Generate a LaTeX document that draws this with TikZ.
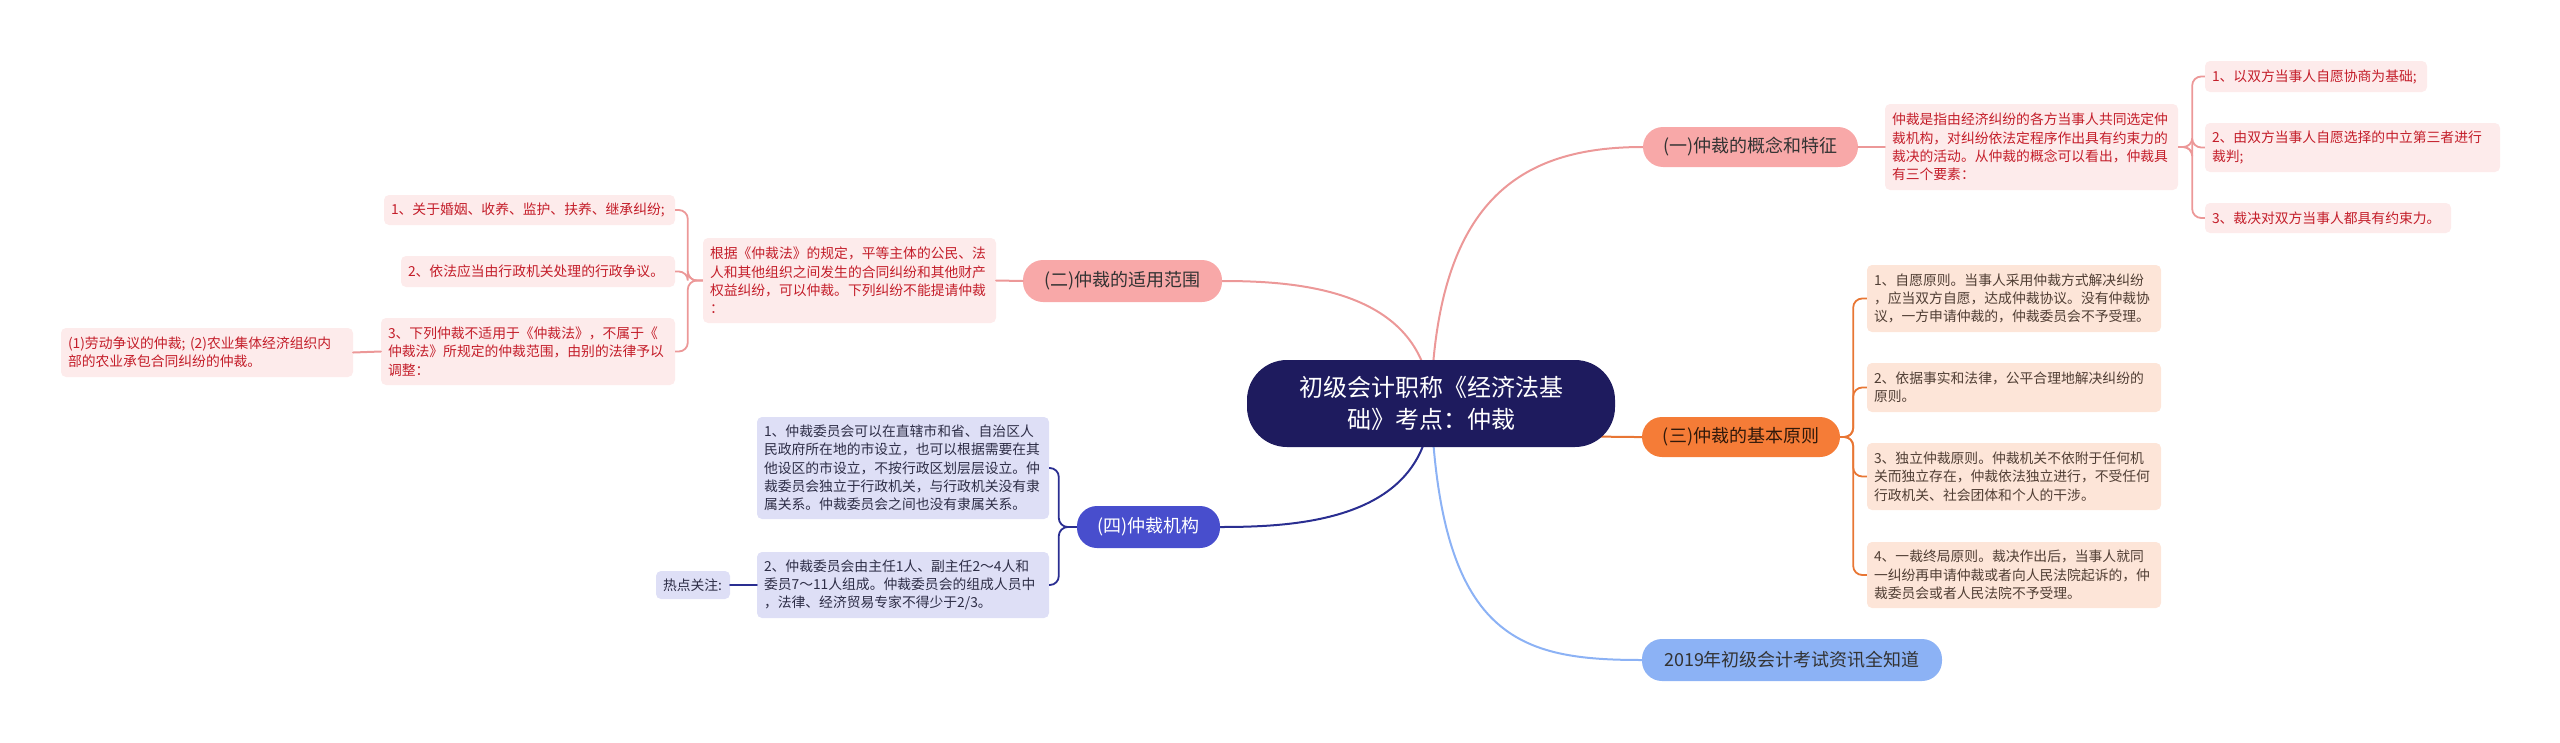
\documentclass[tikz,border=0pt]{standalone}
\usepackage{fontspec}
\setmainfont{Noto Sans CJK SC}
\usetikzlibrary{backgrounds}
\definecolor{rootc}{RGB}{30,27,94}
\definecolor{pinkc}{RGB}{248,168,168}
\definecolor{pinkln}{RGB}{236,152,152}
\definecolor{pinkbg}{RGB}{253,235,235}
\definecolor{pinktx}{RGB}{196,30,42}
\definecolor{orangec}{RGB}{245,124,55}
\definecolor{orangeln}{RGB}{232,118,52}
\definecolor{peachbg}{RGB}{253,229,216}
\definecolor{peachtx}{RGB}{80,62,52}
\definecolor{bluec}{RGB}{72,78,205}
\definecolor{blueln}{RGB}{42,46,145}
\definecolor{lilacbg}{RGB}{222,223,246}
\definecolor{lilactx}{RGB}{45,45,70}
\definecolor{skyc}{RGB}{140,178,245}
\definecolor{darktx}{RGB}{51,51,51}
\tikzset{
  topic/.style={rounded corners=20pt, inner sep=0pt, align=center, text=darktx,
    font=\fontsize{18}{22}\selectfont},
  leaf/.style={rounded corners=5pt, inner xsep=7pt, inner ysep=0pt, align=left,
    font=\fontsize{13.8}{18.3}\selectfont},
  pinkleaf/.style={leaf, fill=pinkbg, text=pinktx},
  peachleaf/.style={leaf, fill=peachbg, text=peachtx},
  lilacleaf/.style={leaf, fill=lilacbg, text=lilactx},
  conn/.style={line width=2pt, line cap=round},
  brace/.style={line width=1.8pt, rounded corners=9pt}
}
\begin{document}
\begin{tikzpicture}[x=1pt,y=-1pt]
\useasboundingbox (0,0) rectangle (2560,742);

\node[fill=rootc, text=white, rounded corners=40pt, minimum width=368pt, minimum height=87pt,
  align=center, font=\fontsize{24}{32}\selectfont] (root) at (1431,403.5) {初级会计职称《经济法基\\础》考点：仲裁};

\node[topic, fill=pinkc, minimum width=215pt, minimum height=40pt] (t1) at (1750.5,147) {(一)仲裁的概念和特征};
\node[topic, fill=pinkc, minimum width=199pt, minimum height=42pt] (t2) at (1122.5,281) {(二)仲裁的适用范围};
\node[topic, fill=orangec, text=black!80!orangec, minimum width=198pt, minimum height=40pt] (t3) at (1741,437) {(三)仲裁的基本原则};
\node[topic, fill=bluec, text=white, minimum width=143pt, minimum height=42pt] (t4) at (1148.5,527) {(四)仲裁机构};
\node[topic, fill=skyc, minimum width=300pt, minimum height=42pt] (t5) at (1792,660) {2019年初级会计考试资讯全知道};

% (一)
\node[pinkleaf, text width=279pt, minimum height=86pt] (d1) at (2031.5,147) {仲裁是指由经济纠纷的各方当事人共同选定仲\\裁机构，对纠纷依法定程序作出具有约束力的\\裁决的活动。从仲裁的概念可以看出，仲裁具\\有三个要素：};
\node[pinkleaf, text width=208pt, minimum height=31pt] (c11) at (2316,76.5) {1、以双方当事人自愿协商为基础;};
\node[pinkleaf, text width=281pt, minimum height=49pt] (c12) at (2352.5,147.5) {2、由双方当事人自愿选择的中立第三者进行\\裁判;};
\node[pinkleaf, text width=232pt, minimum height=30pt] (c13) at (2328,218) {3、裁决对双方当事人都具有约束力。};

% (二)
\node[pinkleaf, text width=279pt, minimum height=85pt] (d2) at (849.5,280.5) {根据《仲裁法》的规定，平等主体的公民、法\\人和其他组织之间发生的合同纠纷和其他财产\\权益纠纷，可以仲裁。下列纠纷不能提请仲裁\\：};
\node[pinkleaf, text width=277pt, minimum height=30pt] (c21) at (529.5,210) {1、关于婚姻、收养、监护、扶养、继承纠纷;};
\node[pinkleaf, text width=260pt, minimum height=31pt] (c22) at (538,271.5) {2、依法应当由行政机关处理的行政争议。};
\node[pinkleaf, text width=280pt, minimum height=67pt] (c23) at (528,351.5) {3、下列仲裁不适用于《仲裁法》，不属于《\\仲裁法》所规定的仲裁范围，由别的法律予以\\调整：};
\node[pinkleaf, text width=278pt, minimum height=49pt] (g1) at (207,352.5) {(1)劳动争议的仲裁; (2)农业集体经济组织内\\部的农业承包合同纠纷的仲裁。};

% (三)
\node[peachleaf, text width=280pt, minimum height=67pt] (c31) at (2014,298.5) {1、自愿原则。当事人采用仲裁方式解决纠纷\\，应当双方自愿，达成仲裁协议。没有仲裁协\\议，一方申请仲裁的，仲裁委员会不予受理。};
\node[peachleaf, text width=280pt, minimum height=49pt] (c32) at (2014,387.5) {2、依据事实和法律，公平合理地解决纠纷的\\原则。};
\node[peachleaf, text width=280pt, minimum height=67pt] (c33) at (2014,476.5) {3、独立仲裁原则。仲裁机关不依附于任何机\\关而独立存在，仲裁依法独立进行，不受任何\\行政机关、社会团体和个人的干涉。};
\node[peachleaf, text width=280pt, minimum height=66pt] (c34) at (2014,575) {4、一裁终局原则。裁决作出后，当事人就同\\一纠纷再申请仲裁或者向人民法院起诉的，仲\\裁委员会或者人民法院不予受理。};

% (四)
\node[lilacleaf, text width=278pt, minimum height=102pt] (c41) at (903,468) {1、仲裁委员会可以在直辖市和省、自治区人\\民政府所在地的市设立，也可以根据需要在其\\他设区的市设立，不按行政区划层层设立。仲\\裁委员会独立于行政机关，与行政机关没有隶\\属关系。仲裁委员会之间也没有隶属关系。};
\node[lilacleaf, text width=278pt, minimum height=66pt] (c42) at (903,585) {2、仲裁委员会由主任1人、副主任2～4人和\\委员7～11人组成。仲裁委员会的组成人员中\\，法律、经济贸易专家不得少于2/3。};
\node[lilacleaf, text width=60pt, minimum height=28pt] (hot) at (693,585) {热点关注:};

\begin{scope}[on background layer]
\draw[conn, pinkln] (root.center) .. controls (1436,200) and (1520,147) .. (t1.west);
\draw[conn, pinkln] (root.center) .. controls (1425,290) and (1300,281) .. (t2.east);
\draw[conn, orangeln] (root.center) .. controls (1500,437) and (1600,437) .. (t3.west);
\draw[conn, blueln] (root.center) .. controls (1428,520) and (1300,527) .. (t4.east);
\draw[conn, skyc] (root.center) .. controls (1440,640) and (1520,660) .. (t5.west);
\end{scope}

\draw[conn, pinkln] (t1.east) -- (d1.west);
\foreach \c in {c11,c12,c13}
  \draw[brace, pinkln] (d1.east) -- ++(14,0) |- (\c.west);

\draw[conn, pinkln] (t2.west) -- (d2.east);
\foreach \c in {c21,c22,c23}
  \draw[brace, pinkln] (d2.west) -- ++(-15,0) |- (\c.east);
\draw[conn, pinkln] (c23.west) -- (g1.east);

\foreach \c in {c31,c32,c33,c34}
  \draw[brace, orangeln] (t3.east) -- ++(13,0) |- (\c.west);

\foreach \c in {c41,c42}
  \draw[brace, blueln] (t4.west) -- ++(-18,0) |- (\c.east);
\draw[conn, blueln] (c42.west) -- (hot.east);
\end{tikzpicture}
\end{document}
